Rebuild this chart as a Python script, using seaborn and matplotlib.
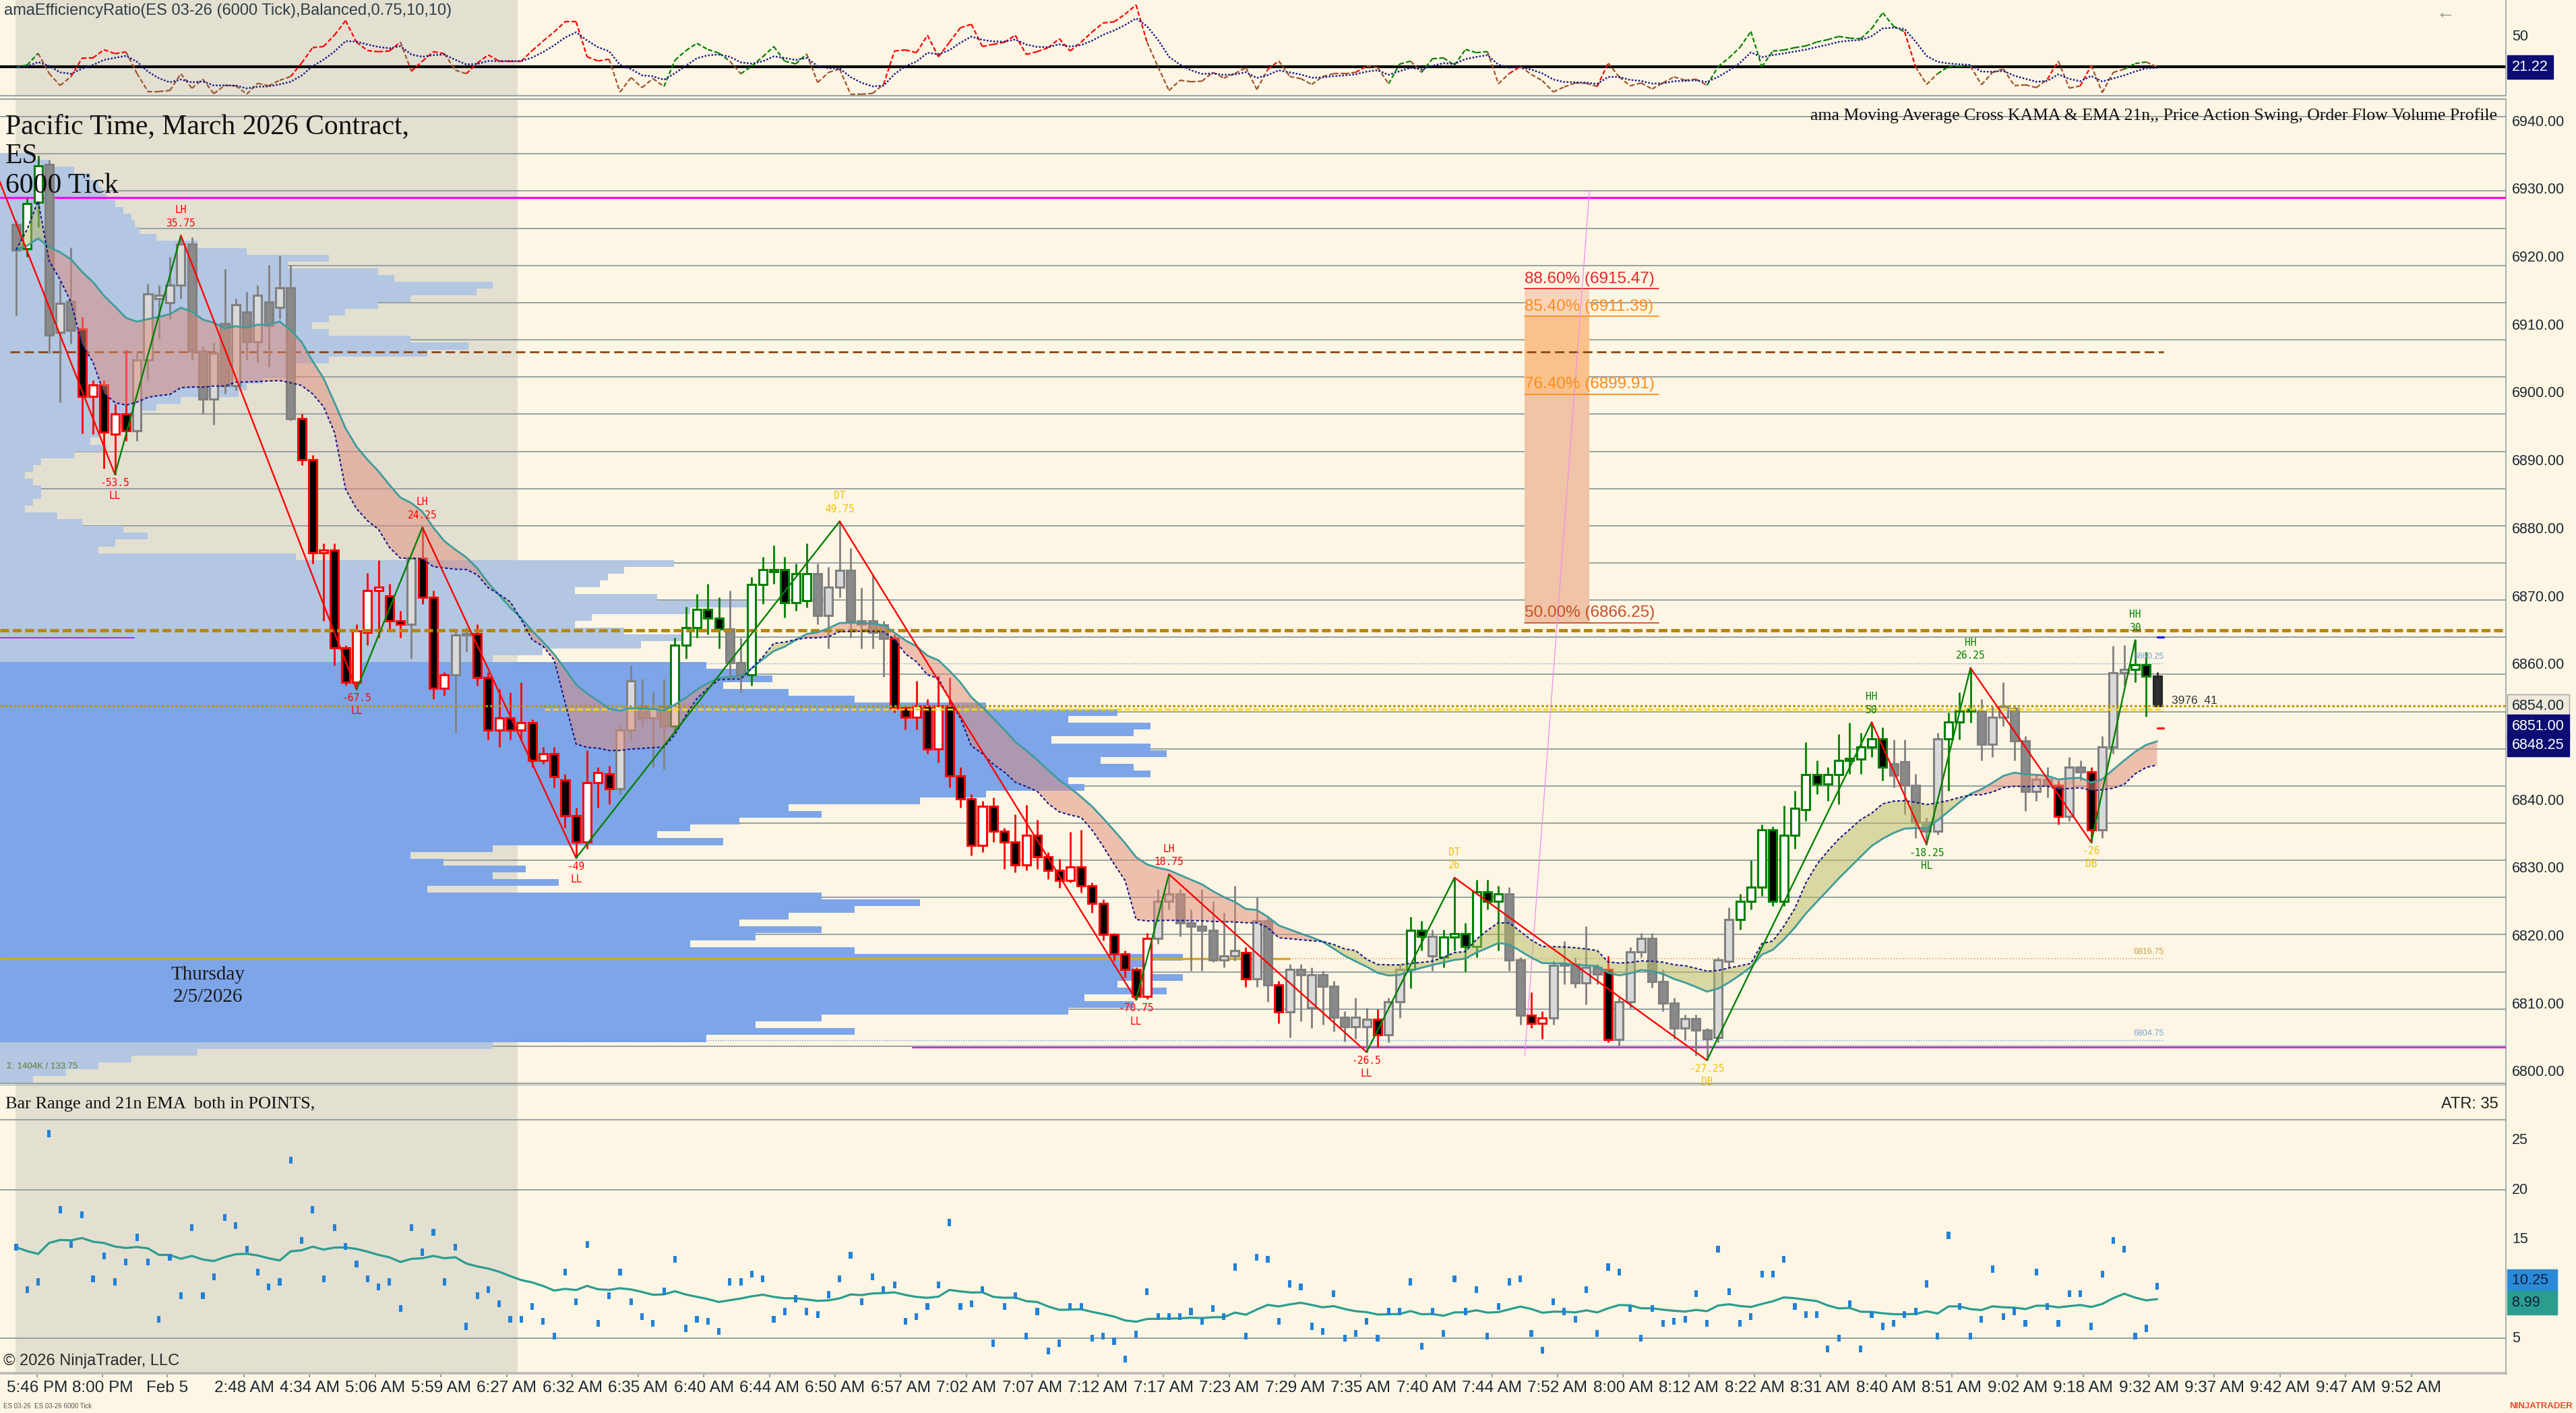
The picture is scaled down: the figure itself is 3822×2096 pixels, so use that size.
import numpy as np
import pandas as pd
import matplotlib
matplotlib.use("Agg")
import matplotlib.pyplot as plt
from matplotlib.transforms import blended_transform_factory
import seaborn as sns

# ------------------------------------------------------------------ data
bar_open = [
    6924.9, 6921.4, 6928.2, 6933.8, 6909.0, 6913.6, 6909.5, 6899.6, 6901.3, 6894.0,
    6897.0, 6894.5, 6905.0, 6914.0, 6913.4, 6916.0, 6922.0, 6906.3, 6899.2, 6910.3,
    6901.2, 6912.0, 6907.6, 6913.5, 6912.7, 6915.6, 6896.3, 6890.3, 6876.6, 6877.0,
    6862.6, 6857.5, 6864.8, 6871.0, 6870.2, 6866.5, 6866.0, 6875.8, 6870.0, 6856.6,
    6858.6, 6864.4, 6864.6, 6858.2, 6850.4, 6852.2, 6850.4, 6851.5, 6846.0, 6847.0,
    6843.1, 6837.8, 6834.0, 6842.7, 6844.0, 6841.8, 6850.4, 6854.0, 6852.2, 6854.0,
    6851.0, 6863.0, 6865.5, 6868.2, 6866.9, 6865.3, 6860.4, 6858.6, 6871.9, 6873.8,
    6874.1, 6869.2, 6869.5, 6873.5, 6867.3, 6871.5, 6874.0, 6866.5, 6866.5, 6865.9,
    6863.9, 6853.7, 6852.3, 6854.0, 6847.7, 6854.0, 6843.7, 6840.3, 6833.5, 6839.2,
    6835.5, 6834.0, 6830.6, 6834.9, 6831.8, 6829.8, 6828.3, 6830.3, 6827.5, 6824.9,
    6820.3, 6817.5, 6815.2, 6811.2, 6819.8, 6825.2, 6826.3, 6822.0, 6821.5, 6820.9,
    6816.6, 6817.2, 6817.7, 6813.8, 6822.3, 6812.9, 6808.9, 6815.2, 6809.5, 6814.4,
    6812.7, 6808.1, 6806.7, 6806.7, 6807.8, 6805.5, 6810.4, 6815.2, 6820.9, 6817.2,
    6817.0, 6819.9, 6820.4, 6818.6, 6826.6, 6825.2, 6826.3, 6816.6, 6808.4, 6807.2,
    6808.0, 6815.8, 6816.0, 6813.2, 6815.5, 6815.2, 6804.9, 6810.4, 6817.8, 6819.8,
    6813.4, 6810.2, 6806.5, 6807.9, 6806.2, 6805.2, 6816.4, 6822.5, 6825.2, 6827.3,
    6835.7, 6825.2, 6834.9, 6838.7, 6843.9, 6842.5, 6843.9, 6846.0, 6846.2, 6848.0,
    6849.1, 6845.5, 6845.8, 6842.3, 6836.8, 6835.5, 6849.1, 6851.6, 6853.2, 6853.2,
    6848.4, 6852.3, 6853.6, 6848.9, 6841.4, 6843.2, 6842.3, 6837.7, 6845.0, 6844.3,
    6835.7, 6848.0, 6858.9, 6859.4, 6860.1, 6858.4]
bar_high = [
    6925.5, 6928.8, 6935.1, 6934.5, 6916.6, 6921.6, 6911.3, 6902.0, 6902.0, 6898.5,
    6906.5, 6906.0, 6916.2, 6916.0, 6920.2, 6923.3, 6923.0, 6907.0, 6907.5, 6918.4,
    6914.0, 6915.0, 6916.0, 6919.0, 6920.4, 6919.0, 6897.0, 6891.0, 6878.0, 6878.0,
    6863.0, 6866.0, 6873.6, 6875.5, 6872.0, 6868.0, 6876.0, 6880.3, 6871.0, 6859.0,
    6865.0, 6865.5, 6866.0, 6859.0, 6856.5, 6856.0, 6857.5, 6852.0, 6848.0, 6848.0,
    6844.0, 6839.0, 6847.5, 6845.0, 6845.2, 6851.0, 6860.0, 6858.0, 6856.0, 6858.0,
    6864.0, 6868.6, 6870.5, 6872.0, 6870.0, 6871.0, 6864.0, 6873.0, 6876.0, 6877.7,
    6876.0, 6875.0, 6878.0, 6875.0, 6874.5, 6881.2, 6877.3, 6871.4, 6873.4, 6866.5,
    6864.5, 6854.0, 6857.7, 6855.0, 6858.5, 6858.2, 6845.0, 6841.0, 6840.0, 6840.5,
    6836.0, 6838.0, 6839.4, 6837.2, 6832.5, 6831.5, 6835.4, 6835.7, 6828.0, 6825.5,
    6820.5, 6818.0, 6815.5, 6820.5, 6827.0, 6829.2, 6827.0, 6824.0, 6827.0, 6825.2,
    6823.5, 6827.5, 6818.5, 6825.8, 6823.0, 6813.5, 6816.0, 6816.0, 6815.5, 6815.0,
    6813.5, 6809.0, 6811.0, 6809.5, 6809.3, 6811.0, 6816.0, 6822.9, 6822.3, 6821.0,
    6821.0, 6828.7, 6822.0, 6828.4, 6828.4, 6827.5, 6827.3, 6817.0, 6811.8, 6809.0,
    6816.5, 6819.4, 6817.0, 6821.5, 6816.0, 6817.2, 6811.0, 6818.5, 6820.5, 6820.5,
    6815.2, 6811.0, 6808.5, 6808.5, 6806.5, 6817.0, 6824.3, 6826.3, 6831.3, 6836.5,
    6836.2, 6839.3, 6841.5, 6848.7, 6846.0, 6845.0, 6849.8, 6851.5, 6850.0, 6851.6,
    6850.8, 6849.0, 6849.0, 6844.0, 6837.5, 6850.0, 6853.0, 6856.0, 6859.6, 6855.0,
    6854.0, 6857.5, 6854.0, 6849.5, 6844.0, 6845.0, 6843.0, 6846.5, 6846.0, 6845.0,
    6849.5, 6862.9, 6863.0, 6863.7, 6862.0, 6859.0]
bar_low = [
    6911.5, 6920.2, 6924.5, 6906.0, 6898.7, 6907.3, 6894.1, 6894.0, 6889.0, 6888.1,
    6893.0, 6893.0, 6902.0, 6908.0, 6911.0, 6914.0, 6905.0, 6897.0, 6895.4, 6900.0,
    6900.5, 6905.0, 6904.6, 6904.0, 6911.0, 6896.0, 6889.5, 6875.0, 6866.5, 6860.0,
    6857.0, 6856.4, 6863.0, 6864.0, 6865.0, 6864.0, 6861.0, 6869.0, 6855.0, 6855.5,
    6850.0, 6862.0, 6857.0, 6849.0, 6848.0, 6849.0, 6849.0, 6845.0, 6845.5, 6842.0,
    6836.0, 6831.6, 6833.0, 6839.0, 6839.5, 6841.0, 6849.0, 6851.0, 6845.0, 6844.7,
    6850.0, 6861.0, 6864.0, 6864.5, 6862.5, 6857.8, 6856.0, 6857.0, 6869.0, 6872.0,
    6867.0, 6868.0, 6868.5, 6866.0, 6862.5, 6870.0, 6864.0, 6862.5, 6862.5, 6858.3,
    6853.0, 6850.5, 6850.5, 6847.0, 6845.7, 6842.0, 6839.0, 6832.0, 6832.5, 6834.0,
    6830.0, 6829.5, 6829.8, 6830.0, 6828.5, 6827.2, 6828.0, 6826.5, 6823.5, 6819.5,
    6816.5, 6814.0, 6810.7, 6810.8, 6819.0, 6824.0, 6820.0, 6815.0, 6815.0, 6816.3,
    6815.5, 6816.5, 6812.6, 6812.6, 6810.4, 6807.2, 6805.2, 6807.5, 6806.5, 6807.0,
    6806.0, 6804.6, 6805.0, 6803.0, 6803.7, 6804.5, 6808.0, 6812.4, 6818.0, 6815.0,
    6815.5, 6818.0, 6814.9, 6817.0, 6824.0, 6818.0, 6815.0, 6807.0, 6806.5, 6805.0,
    6807.0, 6813.0, 6812.5, 6810.0, 6813.0, 6804.5, 6804.0, 6809.5, 6817.0, 6812.5,
    6809.0, 6805.0, 6804.8, 6802.5, 6801.8, 6804.5, 6815.5, 6821.0, 6824.0, 6826.0,
    6824.5, 6824.5, 6833.0, 6837.0, 6841.0, 6840.0, 6839.5, 6844.0, 6844.0, 6846.5,
    6843.0, 6842.0, 6838.0, 6834.5, 6833.6, 6835.0, 6841.5, 6849.0, 6851.5, 6846.0,
    6846.5, 6851.0, 6846.0, 6838.5, 6840.0, 6840.5, 6836.5, 6837.0, 6843.0, 6833.9,
    6834.5, 6847.0, 6857.0, 6857.5, 6852.4, 6853.9]
bar_close = [
    6921.2, 6928.0, 6933.6, 6908.6, 6913.3, 6909.3, 6899.6, 6901.3, 6894.3, 6897.0,
    6894.5, 6905.0, 6914.7, 6914.5, 6916.0, 6922.0, 6906.3, 6899.2, 6906.0, 6901.2,
    6913.1, 6907.6, 6914.5, 6910.0, 6915.6, 6896.3, 6890.3, 6876.6, 6877.0, 6862.6,
    6857.5, 6865.0, 6871.0, 6871.5, 6866.5, 6866.0, 6875.8, 6870.0, 6856.6, 6858.6,
    6864.4, 6864.6, 6858.2, 6850.4, 6852.2, 6850.4, 6851.5, 6846.0, 6847.0, 6843.6,
    6837.8, 6834.0, 6842.7, 6844.2, 6841.8, 6850.4, 6857.7, 6852.2, 6853.5, 6851.0,
    6863.0, 6865.5, 6868.2, 6866.9, 6865.3, 6860.4, 6858.6, 6871.9, 6874.1, 6874.1,
    6869.2, 6873.5, 6873.5, 6867.3, 6871.5, 6874.0, 6866.5, 6866.0, 6864.8, 6863.9,
    6853.7, 6852.3, 6854.0, 6847.7, 6854.0, 6843.7, 6840.3, 6833.5, 6839.2, 6835.5,
    6834.0, 6830.6, 6834.9, 6831.8, 6829.8, 6828.3, 6830.3, 6827.5, 6824.9, 6820.3,
    6817.5, 6815.2, 6811.2, 6819.8, 6825.2, 6826.3, 6822.0, 6821.5, 6820.9, 6816.6,
    6817.2, 6818.0, 6813.8, 6822.3, 6812.9, 6808.9, 6815.2, 6814.4, 6814.4, 6812.7,
    6808.1, 6806.7, 6808.1, 6807.8, 6805.5, 6810.4, 6815.2, 6820.9, 6820.0, 6820.0,
    6819.9, 6820.4, 6818.6, 6826.6, 6825.2, 6826.3, 6816.6, 6808.4, 6807.2, 6808.0,
    6815.8, 6816.0, 6813.2, 6815.5, 6814.5, 6804.9, 6810.4, 6817.8, 6819.8, 6813.4,
    6810.2, 6806.5, 6807.9, 6806.2, 6805.0, 6816.6, 6822.5, 6825.2, 6827.3, 6835.7,
    6825.2, 6834.9, 6838.9, 6843.9, 6842.5, 6843.9, 6846.0, 6846.2, 6848.0, 6849.1,
    6845.0, 6843.8, 6842.3, 6836.8, 6835.5, 6849.1, 6851.6, 6853.2, 6853.5, 6848.4,
    6852.3, 6853.9, 6848.9, 6841.4, 6843.2, 6842.3, 6837.7, 6845.0, 6844.3, 6835.7,
    6848.0, 6858.9, 6859.4, 6860.1, 6858.4, 6854.0]
bar_trend = ("nggnnnrrrr" "rnnnnnnnnn" "nnnnnnrrrr" "rrrrrrnrrr" "nnrrrrrrrr"
             "rrrrrnnnnn" "gggggnnggg" "gggnnnnnnn" "rrrrrrrrrr" "rrrrrrrrrr"
             "rrrrnnnnnn" "nnrnnrnnnn" "nnnnrnnggn" "ggggggnnrr" "nnnnnrnnnn"
             "nnnnnnnggg" "gggggggggg" "gnnnnngggn" "nnnnnnrnnr" "nnnggk")

# bar range (points)
bar_range = [
    14.2, 9.9, 10.7, 25.7, 18.0, 14.5, 17.5, 11.0, 13.3, 10.7,
    12.7, 15.2, 12.7, 6.9, 13.2, 9.3, 16.2, 9.3, 11.2, 17.2,
    16.4, 14.0, 11.7, 10.2, 10.7, 23.0, 14.9, 18.0, 11.0, 16.2,
    14.3, 12.5, 11.0, 10.2, 10.7, 8.0, 16.2, 13.7, 15.7, 10.7,
    14.2, 6.2, 9.3, 9.9, 8.5, 6.9, 6.9, 8.2, 6.7, 5.2,
    11.7, 8.7, 14.5, 6.5, 9.3, 11.7, 8.7, 7.2, 6.5, 9.8,
    13.0, 6.0, 6.9, 6.7, 5.7, 10.7, 10.7, 11.5, 11.0, 6.9,
    7.7, 9.0, 7.7, 7.4, 9.4, 11.0, 13.4, 8.7, 11.2, 9.9,
    10.4, 6.7, 7.2, 8.2, 10.4, 16.7, 8.2, 8.5, 9.9, 4.5,
    8.2, 9.3, 5.2, 7.7, 3.7, 4.5, 8.2, 8.2, 5.0, 5.2,
    4.7, 2.9, 5.4, 9.7, 7.2, 7.2, 7.2, 7.7, 6.7, 8.0,
    7.2, 12.2, 5.2, 13.2, 13.0, 6.7,
    10.5, 10.2, 6.2, 5.7, 9.5, 5.0, 5.5, 6.7, 5.0, 7.7,
    7.7, 10.7, 4.2, 7.7, 5.5, 11.0, 7.7, 9.9, 5.2, 8.2,
    10.7, 11.0, 5.5, 3.8, 8.7, 7.7, 6.9, 9.9, 5.5, 12.2,
    11.7, 8.0, 5.0, 8.0, 6.5, 6.7, 6.9, 9.5, 6.5, 14.0,
    9.7, 6.5, 7.2, 11.5, 11.5, 13.0, 8.2, 7.4, 7.4, 3.9,
    5.0, 8.5, 3.9, 7.4, 6.2, 6.5, 7.4, 7.7, 10.5, 5.2,
    15.4, 8.2, 5.2, 6.9, 12.0, 7.2, 7.7, 6.5, 11.7, 8.2,
    6.5, 9.5, 9.5, 6.2, 11.5, 14.9, 14.0, 5.2, 6.0, 10.25]

# efficiency ratio
er_value = [
    21, 23, 34.4, 15, 3.4, 12, 29.7, 30, 37.8, 34,
    35.7, 15, -2.4, -2.4, -1.5, 14.7, 0.7, 9.4, -4.5, 3.5,
    3.0, -4.9, 5.5, 3, 8.4, 12, 25, 39.8, 40.9, 52,
    65.8, 45, 37, 35.9, 36.6, 45.2, 17.1, 26.8, 35.9, 34,
    18.1, 14.7, 25, 32.8, 26.8, 26.8, 26.8, 37, 46.3, 55,
    64.7, 64.7, 31, 27, 28.7, -3, 11, 1.3, 10, 2.4,
    27.7, 37, 44, 38, 34.6, 26.8, 14.7, 22, 31, 40.9,
    26.8, 24.2, 33.7, 6.3, 16, 19.2, -5.1, -5, -4.3, 4.4,
    36.6, 37.6, 35, 51.7, 31, 45, 59, 62.3, 40.9, 43,
    45, 51.7, 33.2, 36, 39.8, 48.4, 36.6, 45.2, 55, 63.6,
    64.7, 72, 81, 45, 21.2, -1.5, 8.4, 7, 7.5, 16,
    10.5, 15, 20.5, -0.4, 19, 27, 12, 10, 4.4, 12,
    14.7, 14.7, 16, 22, 20.6, 5, 24, 26.8, 16, 29.2,
    29.9, 23, 38, 35, 36, 5, 15, 21.6, 14, 8,
    -2.9, 2, 5.8, 5.5, 2.4, 25, 11.6, 3, 5.8, 0,
    6, 11.6, 8.4, 9.4, 3.5, 21.4, 30, 40, 55.4, 21.4,
    36.6, 37.5, 39.8, 41.5, 45.2, 47.5, 50.6, 49, 48.4, 58.2,
    73.4, 60.4, 55, 21.4, 4.4, 14.7, 21.6, 22, 22, 4.1,
    16, 19.2, 3.2, 4, 1.3, 9.4, 26.8, 0.8, 3, 22.8,
    -3.5, 16, 19, 24.5, 26, 21.2]
er_level = 21.22

# volume profile (1-point rows from the top price downward)
profile_top = 6935
profile_vol = [
    20, 30, 45, 55, 60, 62, 65, 70, 75, 80,
    82, 85, 95, 120, 150, 200, 175, 230, 240, 300,
    290, 250, 230, 210, 200, 190, 200, 250, 285, 260,
    200, 180, 175, 160, 150, 145, 110, 95, 80, 75,
    70, 60, 55, 65, 45, 25, 20, 15, 20, 25,
    25, 20, 15, 35, 50, 75, 90, 70, 60, 180,
    410, 380, 370, 365, 350, 400, 460, 420, 360, 350,
    380, 420, 390, 330, 300, 430, 450, 470, 440, 480,
    520, 600, 680, 650, 700, 690, 640, 700, 710, 670,
    690, 700, 650, 660, 600, 560, 480, 500, 450, 420,
    400, 440, 300, 250, 270, 320, 300, 340, 260, 500,
    560, 520, 480, 450, 500, 460, 420, 520, 720, 700,
    690, 720, 680, 710, 660, 690, 650, 500, 460, 520,
    430, 300, 120, 80, 60, 40, 20]
va_high, poc, va_low = 6860.25, 6816.75, 6804.75

# swings (bar index, price, tag, size)
swing_idx = [-2, 9, 15, 31, 37, 51, 75, 102, 105, 123, 131, 154, 169, 174, 178, 189, 193]
swing_price = [6933.3, 6888.1, 6923.3, 6856.4, 6880.3, 6831.6, 6881.2, 6810.7, 6829.2,
               6803.0, 6828.7, 6801.8, 6851.6, 6833.6, 6859.6, 6833.9, 6863.7]
swing_tag = ['', 'LL', 'LH', 'LL', 'LH', 'LL', 'DT', 'LL', 'LH', 'LL', 'DT', 'DB',
             'HH', 'HL', 'HH', 'DB', 'HH']
swing_size = ['', '-53.5', '35.75', '-67.5', '24.25', '-49', '49.75', '-70.75', '18.75',
              '-26.5', '26', '-27.25', '50', '-18.25', '26.25', '-26', '30']

# fibonacci drawing
fib_low, fib_high = 6802.5, 6930.0
fib_x = [137.4, 143.3]
fib_ratio = [0.886, 0.854, 0.764, 0.5]

# other price levels
level_magenta_hi = 6928.9
level_brown = 6906.2
level_gold = 6865.1
level_magenta_short = 6864.0
level_last = 6854.0
level_yellow = 6853.5
level_magenta_lo = 6803.7
kama_marker, ema_marker = 6864.1, 6850.7

time_labels = ["5:46 PM", "8:00 PM", "Feb 5", "2:48 AM", "4:34 AM", "5:06 AM", "5:59 AM",
               "6:27 AM", "6:32 AM", "6:35 AM", "6:40 AM", "6:44 AM", "6:50 AM", "6:57 AM",
               "7:02 AM", "7:07 AM", "7:12 AM", "7:17 AM", "7:23 AM", "7:29 AM", "7:35 AM",
               "7:40 AM", "7:44 AM", "7:52 AM", "8:00 AM", "8:12 AM", "8:22 AM", "8:31 AM",
               "8:40 AM", "8:51 AM", "9:02 AM", "9:18 AM", "9:32 AM", "9:37 AM", "9:42 AM",
               "9:47 AM", "9:52 AM"]
price_ticks = [6940, 6930, 6920, 6910, 6900, 6890, 6880, 6870, 6860,
               6840, 6830, 6820, 6810, 6800]
range_ticks = [25, 20, 15, 5]

# ------------------------------------------------------------------ style
sns.set_theme(style="white")
plt.rcParams['font.family'] = ['Liberation Sans', 'DejaVu Sans']
plt.rcParams['axes.unicode_minus'] = False

W, H = 3823, 2096
RIGHT = 3718
X0, DX = 24.0, 16.29          # pixel of bar 0 and bar spacing
BG = '#fdf6e4'
SESSION = '#e3e0d1'
GRID = '#8f9b9d'
SEP = '#9aa3a5'
MONO = 'DejaVu Sans Mono'
SERIF = ['Liberation Serif', 'DejaVu Serif']

fig = plt.figure(figsize=(W / 100, H / 100), dpi=100, facecolor=BG)
XL = (-X0 / DX, (RIGHT - X0) / DX)


def px2bar(px):
    return (px - X0) / DX


def add_ax(y0, y1):
    a = fig.add_axes([0, 1 - y1 / H, RIGHT / W, (y1 - y0) / H])
    a.set_facecolor(BG)
    for s in a.spines.values():
        s.set_visible(False)
    a.set_xlim(*XL)
    a.set_xticks([])
    a.set_yticks([])
    a.grid(False)
    a.spines['right'].set_visible(True)
    a.spines['right'].set_color(SEP)
    a.spines['right'].set_linewidth(1.2)
    return a


ax_er = add_ax(0, 142)
ax = add_ax(147, 1610)
ax_br = add_ax(1610, 2037)
ax_er.set_ylim(-6.5, 85.7)
ax.set_ylim(6798.1, 6943.4)
ax_br.set_ylim(1.46, 30.57)
ax_er.spines['bottom'].set_visible(True)
ax_er.spines['bottom'].set_color(SEP)
ax_er.spines['bottom'].set_linewidth(1.5)
for s in ('top', 'bottom'):
    ax.spines[s].set_visible(True)
    ax.spines[s].set_color(SEP)
    ax.spines[s].set_linewidth(1.5)
ax_br.spines['bottom'].set_visible(True)
ax_br.spines['bottom'].set_color('#b8b8b8')
ax_br.spines['bottom'].set_linewidth(2.6)

for a in (ax_er, ax, ax_br):
    a.axvspan(px2bar(23), px2bar(768), color=SESSION, lw=0, zorder=0)

n = len(bar_close)
xi = np.arange(n)
o = np.array(bar_open)
hi = np.array(bar_high)
lo = np.array(bar_low)
c = np.array(bar_close)
END = n - 0.4

# ------------------------------------------------------------------ main panel
for k in range(27):
    ax.axhline(6940.8 - 5.477 * k, color=GRID, lw=1.3, zorder=1)

levels = profile_top - np.arange(len(profile_vol))
prof_cols = ['#7ea5e8' if va_low <= p <= va_high else '#b3c6e2' for p in levels]
ax.barh(levels, np.array(profile_vol) * 2.438 / DX, left=XL[0], height=1.0,
        color=prof_cols, lw=0, zorder=2)

# horizontal levels
ax.axhline(level_magenta_hi, color='#ff00ff', lw=2.2, zorder=3)
ax.plot([px2bar(15), END], [level_brown] * 2, color='#8b4513', lw=2.0,
        dashes=(5, 2.5), zorder=3)
ax.plot([XL[0], px2bar(199)], [level_magenta_short] * 2, color='#ff00ff', lw=1.4, zorder=3)
ax.plot([px2bar(763), END], [va_high] * 2, color='#6b8fd6', lw=1.0, ls=':', zorder=3)
ax.plot([px2bar(763), END], [va_low] * 2, color='#6b8fd6', lw=1.0, ls=':', zorder=3)
ax.plot([XL[0], px2bar(1913)], [poc] * 2, color='#daa520', lw=2.4, zorder=3)
ax.plot([px2bar(1913), END], [poc] * 2, color='#d4a860', lw=1.2, ls=':', zorder=3)
ax.plot([px2bar(1354), XL[1]], [level_magenta_lo] * 2, color='#ff00ff', lw=1.6, zorder=3)

# fib drawing
fib_levels = fib_low + np.array(fib_ratio) * (fib_high - fib_low)
band_cols = ['#f9d4bb', '#f9c28c', '#f0c4a6']
for j in range(3):
    ax.fill_between(fib_x, fib_levels[j + 1], fib_levels[j], color=band_cols[j],
                    lw=0, zorder=2.5)
fib_cols = ['#e8262a', '#ff8c1a', '#ff8c1a', '#c8502a']
for r, lv, col in zip(fib_ratio, fib_levels, fib_cols):
    ax.plot([fib_x[0], fib_x[0] + 12.2], [lv, lv], color=col, lw=1.3, zorder=3)
    ax.text(fib_x[0], lv + 0.35, f"{r * 100:.2f}% ({lv:.2f})", color=col,
            fontsize=17.5, ha='left', va='bottom', zorder=9)
ax.plot(fib_x, [fib_low, fib_high], color='#f08cf0', lw=0.9, zorder=3)

# candles
edge_map = {'r': '#ff0000', 'g': '#008000', 'n': '#808080', 'k': '#262626'}
edges, fills = [], []
for t, op, cl in zip(bar_trend, o, c):
    edges.append(edge_map[t])
    up = cl >= op
    if t in 'rg':
        fills.append('#ffffff' if up else '#000000')
    elif t == 'n':
        fills.append('#d9d9d9' if up else '#8a8a8a')
    else:
        fills.append('#2e2e2e')
ax.vlines(xi, lo, hi, colors=edges, lw=2.0, zorder=4)
ax.bar(xi, np.maximum(np.abs(c - o), 0.25), width=0.74, bottom=np.minimum(o, c),
       color=fills, edgecolor=edges, linewidth=2.2, zorder=4.5)

ax.plot([XL[0], XL[1]], [level_gold] * 2, color='#b8860b', lw=3.6,
        dashes=(2.6, 1.1), zorder=6)
ax.plot([XL[0], XL[1]], [level_last] * 2, color='#b8960b', lw=2.4,
        dashes=(1, 1), zorder=6)
ax.plot([px2bar(808), END], [level_yellow] * 2, color='#ffd700', lw=2.0,
        dashes=(3, 1.3), zorder=6)


# KAMA & EMA (KAMA warm-up bars use a full efficiency ratio)
def kama(series, n_er=10, fast=2, slow=30):
    out = np.empty(len(series))
    out[0] = series[0]
    fsc, ssc = 2 / (fast + 1), 2 / (slow + 1)
    for i in range(1, len(series)):
        if i < n_er:
            e = 1.0
        else:
            change = abs(series[i] - series[i - n_er])
            vol = np.abs(np.diff(series[i - n_er:i + 1])).sum()
            e = change / vol if vol > 0 else 0.0
        sc = (e * (fsc - ssc) + ssc) ** 2
        out[i] = out[i - 1] + sc * (series[i] - out[i - 1])
    return out


km = kama(c)
em = pd.Series(c).ewm(span=21, adjust=False).mean().to_numpy()
ax.fill_between(xi, km, em, where=km < em, interpolate=True, color='#de8c7a',
                alpha=0.5, lw=0, zorder=5)
ax.fill_between(xi, km, em, where=km >= em, interpolate=True, color='#b6ba62',
                alpha=0.5, lw=0, zorder=5)
sns.lineplot(x=xi, y=em, ax=ax, color='#3d9c9c', lw=2.0, estimator=None,
             sort=False, legend=False, zorder=6)
sns.lineplot(x=xi, y=km, ax=ax, color='#16168a', lw=1.5, linestyle=(0, (2, 1.5)),
             estimator=None, sort=False, legend=False, zorder=6)
ax.plot([n - 1.0, END], [kama_marker] * 2, color='#1a1aff', lw=2.4, zorder=7)
ax.plot([n - 1.0, END], [ema_marker] * 2, color='#ff2020', lw=2.4, zorder=7)

# swing zig-zag
tag_col = {'LL': '#ff0000', 'LH': '#ff0000', 'DT': '#f2c200', 'DB': '#f2c200',
           'HH': '#008000', 'HL': '#008000'}
for k in range(1, len(swing_idx)):
    p0, p1 = swing_price[k - 1], swing_price[k]
    ax.plot([swing_idx[k - 1], swing_idx[k]], [p0, p1],
            color='#ff0000' if p1 < p0 else '#008000', lw=1.7, zorder=7)
    tcol = tag_col[swing_tag[k]]
    off1, off2 = (13, 27) if p1 > p0 else (-9, -23)
    ax.annotate(swing_size[k], (swing_idx[k], p1), xytext=(0, off1),
                textcoords='offset points', ha='center', va='center',
                color=tcol, fontsize=10.5, family=MONO, zorder=9)
    ax.annotate(swing_tag[k], (swing_idx[k], p1), xytext=(0, off2),
                textcoords='offset points', ha='center', va='center',
                color=tcol, fontsize=10.5, family=MONO, zorder=9)

ax.text(END, va_high + 0.4, f"{va_high:.2f}", ha='right', va='bottom', fontsize=9,
        color='#7f9fd8', zorder=9)
ax.text(END, poc + 0.4, f"{poc:.2f}", ha='right', va='bottom', fontsize=9,
        color='#c8a048', zorder=9)
ax.text(END, va_low + 0.4, f"{va_low:.2f}", ha='right', va='bottom', fontsize=9,
        color='#7f9fd8', zorder=9)
ax.text(px2bar(3222), 6854.8, "3976  41", ha='left', va='center', fontsize=12.5,
        color='#333333', zorder=9)

# ------------------------------------------------------------------ ER panel
er = np.array(er_value, dtype=float)
ref = np.array([c[max(i - 10, 0)] for i in range(n)])
er_col = np.where(er < er_level, '#a0522d', np.where(c >= ref, '#008000', '#ff0000'))
ax_er.axhline(er_level, color='#000000', lw=3.0, zorder=2)
for i in range(1, n):
    ax_er.plot(xi[i - 1:i + 1], er[i - 1:i + 1], color=er_col[i], lw=1.6,
               dashes=(3, 1.5), zorder=3)
er_smooth = pd.Series(er).ewm(span=5, adjust=False).mean().to_numpy()
sns.lineplot(x=xi, y=er_smooth, ax=ax_er, color='#1a1a8a', lw=1.8,
             linestyle=(0, (1, 1)), estimator=None, sort=False, legend=False, zorder=4)

# ------------------------------------------------------------------ bar range panel
for v in (27.1, 20, 5):
    ax_br.axhline(v, color=GRID, lw=1.3, zorder=1)
br_ema = pd.Series(bar_range).ewm(span=21, adjust=False).mean().to_numpy()
sns.lineplot(x=xi, y=br_ema, ax=ax_br, color='#2a9d8f', lw=2.3, estimator=None,
             sort=False, legend=False, zorder=3)
rect = [(-0.5, -1), (0.5, -1), (0.5, 1), (-0.5, 1), (-0.5, -1)]
sns.scatterplot(x=xi, y=bar_range, ax=ax_br, marker=rect, s=55, color='#2381d6',
                edgecolor='none', legend=False, zorder=4)

tick_px = [55, 152, 248] + [362 + 97.45 * k for k in range(34)]
ax_br.set_xticks([px2bar(p) for p in tick_px])
ax_br.set_xticklabels(time_labels, fontsize=17.5, color='#1c2833')
ax_br.tick_params(axis='x', bottom=True, length=4, width=1.2, color='#909090', pad=4)
ax_br.set_xlim(*XL)

# ------------------------------------------------------------------ right labels
XOFF = 1 + 9 / RIGHT


def rlabel(a, val, s, fc=None, tc='#1c2833', ec=None, size=15.5):
    tr = blended_transform_factory(a.transAxes, a.transData)
    kw = {}
    if fc is not None:
        kw['bbox'] = dict(boxstyle='square,pad=0.32', fc=fc, ec=ec or fc, lw=1)
    a.text(XOFF, val, s, transform=tr, ha='left', va='center', fontsize=size,
           color=tc, clip_on=False, zorder=10, **kw)


for v in price_ticks:
    rlabel(ax, v, f"{v:.2f}")
rlabel(ax, level_last, f"{level_last:.2f}", fc='#efeadb', ec='#a0a0a0')
rlabel(ax, 6851.0, "6851.00", fc='#0c0c72', tc='white')
rlabel(ax, 6848.25, "6848.25", fc='#0c0c72', tc='white')
rlabel(ax_er, 50, "50")
rlabel(ax_er, er_level, f"{er_level:.2f}", fc='#0c0c72', tc='white')
for v in range_ticks:
    rlabel(ax_br, v, f"{v}")
rlabel(ax_br, 10.8, "10.25 ", fc='#2b8ad8', tc='#0c1e3c')
rlabel(ax_br, 8.6, "8.99   ", fc='#2a9d8f', tc='#0c1e3c')


# ------------------------------------------------------------------ free texts
def ptext(x, y, s, **kw):
    fig.text(x / W, 1 - y / H, s, **kw)


ptext(6, 16, "amaEfficiencyRatio(ES 03-26 (6000 Tick),Balanced,0.75,10,10)",
      fontsize=17, color='#2f3e46', va='center', ha='left')
ptext(3628, 20, "\u2190", fontsize=20, color='#7a8a90', va='center', ha='center')
ptext(8, 188, "Pacific Time, March 2026 Contract,", fontsize=30, family=SERIF,
      color='#111111', va='center', ha='left')
ptext(8, 232, "ES", fontsize=30, family=SERIF, color='#111111', va='center', ha='left')
ptext(8, 276, "6000 Tick", fontsize=30, family=SERIF, color='#111111', va='center',
      ha='left')
ptext(3705, 172, "ama Moving Average Cross KAMA & EMA 21n,, Price Action Swing, "
      "Order Flow Volume Profile", fontsize=18.5, family=SERIF, color='#111111',
      va='center', ha='right')
ptext(308, 1446, "Thursday", fontsize=21, family=SERIF, color='#1a1a1a',
      va='center', ha='center')
ptext(308, 1479, "2/5/2026", fontsize=21, family=SERIF, color='#1a1a1a',
      va='center', ha='center')
ptext(10, 1582, "\u03a3: 1404K / 133.75", fontsize=9.5, color='#5b7f2b', va='center',
      ha='left')
ptext(8, 1638, "Bar Range and 21n EMA  both in POINTS,", fontsize=19, family=SERIF,
      color='#111111', va='center', ha='left')
ptext(3707, 1638, "ATR: 35", fontsize=17, color='#222222', va='center', ha='right')
ptext(5, 2019, "\u00a9 2026 NinjaTrader, LLC", fontsize=17, color='#2a2a2a',
      va='center', ha='left')
ptext(5, 2086, "ES 03-26  ES 03-26 6000 Tick", fontsize=7, color='#555555',
      va='center', ha='left')
ptext(3817, 2086, "NINJATRADER", fontsize=9.5, color='#e84a2a', weight='bold',
      va='center', ha='right')

fig.savefig("out.png", dpi=100, facecolor=BG)
